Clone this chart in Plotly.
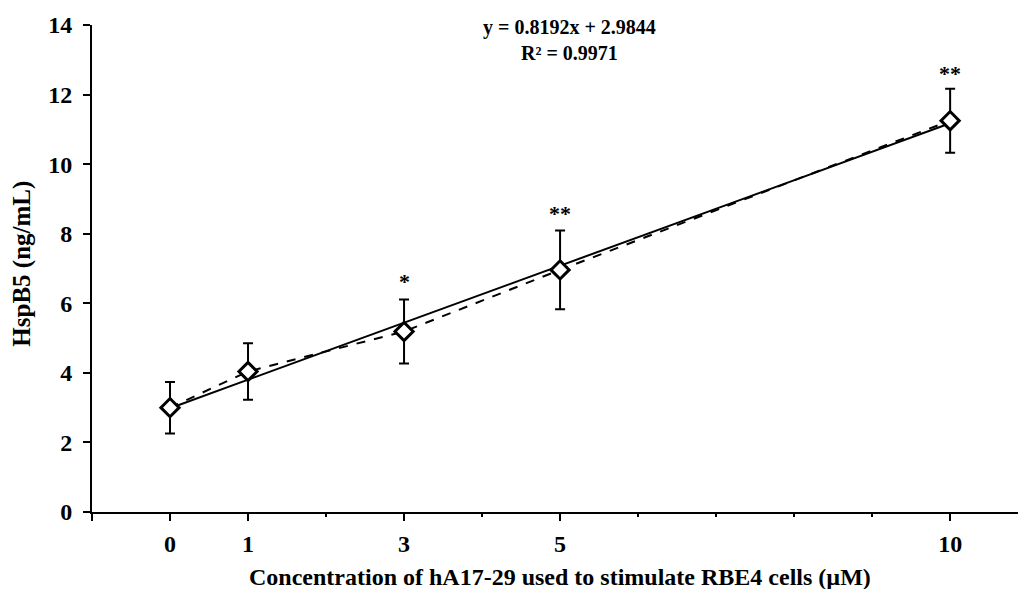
import plotly.graph_objects as go

# Data
conc = [0, 1, 3, 5, 10]
hspb5 = [3.00, 4.04, 5.19, 6.96, 11.25]
err = [0.74, 0.81, 0.92, 1.13, 0.92]
sig_x = [3, 5, 10]
sig_y = [6.62, 8.58, 12.62]
sig_text = ["*", "**", "**"]
trend_x = [0, 10]
trend_y = [2.9844, 11.1764]
eq_line1 = "y = 0.8192x + 2.9844"
eq_line2 = "R² = 0.9971"
x_major = [-1, 0, 1, 3, 5, 10]
x_major_text = ["", "0", "1", "3", "5", "10"]
x_minor = [2, 4, 6, 7, 8, 9]
y_ticks = [0, 2, 4, 6, 8, 10, 12, 14]

FONT = "Liberation Serif, Times New Roman, serif"

fig = go.Figure()
fig.add_trace(go.Scatter(x=trend_x, y=trend_y, mode="lines",
                         line=dict(color="black", width=2), hoverinfo="skip",
                         showlegend=False))
fig.add_trace(go.Scatter(x=conc, y=hspb5, mode="lines",
                         line=dict(color="black", width=2, dash="dash"),
                         showlegend=False))
fig.add_trace(go.Scatter(x=conc, y=hspb5, mode="markers",
                         marker=dict(symbol="diamond", size=14, color="white",
                                     line=dict(color="black", width=3)),
                         error_y=dict(type="data", array=err, visible=True,
                                      color="black", thickness=2, width=5),
                         showlegend=False))

annotations = []
for x, y, t in zip(sig_x, sig_y, sig_text):
    annotations.append(dict(x=x, y=y, xref="x", yref="y", text=f"<b>{t}</b>",
                            showarrow=False, font=dict(family=FONT, size=22, color="black"),
                            xanchor="center", yanchor="middle"))
annotations.append(dict(x=0.516, y=0.994, xref="paper", yref="paper",
                        text=f"<b>{eq_line1}</b>", showarrow=False,
                        font=dict(family=FONT, size=20, color="black"),
                        xanchor="center", yanchor="middle"))
annotations.append(dict(x=0.516, y=0.943, xref="paper", yref="paper",
                        text=f"<b>{eq_line2}</b>", showarrow=False,
                        font=dict(family=FONT, size=20, color="black"),
                        xanchor="center", yanchor="middle"))
annotations.append(dict(x=0.505, y=-0.133, xref="paper", yref="paper",
                        text="<b>Concentration of hA17-29 used to stimulate RBE4 cells (µM)</b>",
                        showarrow=False, font=dict(family=FONT, size=24, color="black"),
                        xanchor="center", yanchor="middle"))
annotations.append(dict(x=-0.075, y=0.509, xref="paper", yref="paper",
                        text="<b>HspB5 (ng/mL)</b>", textangle=-90,
                        showarrow=False, font=dict(family=FONT, size=25, color="black"),
                        xanchor="center", yanchor="middle"))

tickfont = dict(family=FONT, size=24, color="black", weight="bold")

fig.update_layout(
    width=1018, height=589,
    margin=dict(l=92, r=0, t=25, b=77),
    paper_bgcolor="white", plot_bgcolor="white",
    font=dict(family=FONT, color="black"),
    annotations=annotations,
    xaxis=dict(range=[-1, 10.87], showgrid=False, zeroline=False,
               showline=True, linecolor="black", linewidth=2,
               tickmode="array", tickvals=x_major, ticktext=x_major_text,
               ticks="outside", ticklen=7, tickwidth=2, tickcolor="black",
               tickfont=tickfont, ticklabelstandoff=2,
               minor=dict(tickmode="array", tickvals=x_minor, ticks="outside",
                          ticklen=3, tickwidth=2, tickcolor="black")),
    yaxis=dict(range=[0, 14], showgrid=False, zeroline=False,
               showline=True, linecolor="black", linewidth=2,
               tickmode="array", tickvals=y_ticks,
               ticks="outside", ticklen=7, tickwidth=2, tickcolor="black",
               tickfont=tickfont, ticklabelstandoff=6),
)

fig.write_html("out.html")
